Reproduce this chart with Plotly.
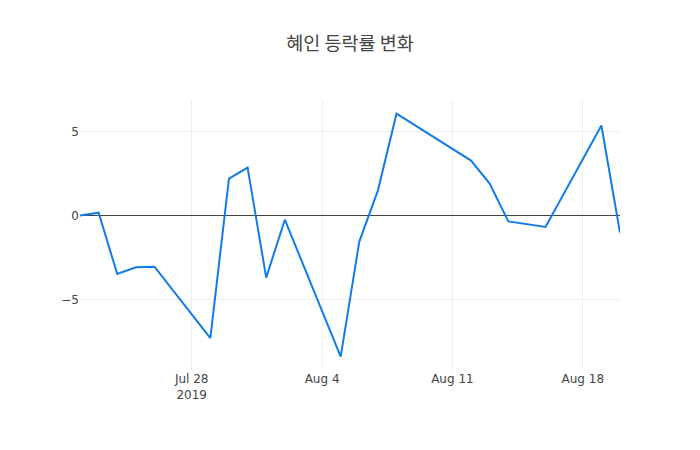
import plotly.graph_objects as go

dates = ["2019-07-22", "2019-07-23", "2019-07-24", "2019-07-25", "2019-07-26",
         "2019-07-29", "2019-07-30", "2019-07-31", "2019-08-01", "2019-08-02",
         "2019-08-05", "2019-08-06", "2019-08-07", "2019-08-08",
         "2019-08-12", "2019-08-13", "2019-08-14", "2019-08-16",
         "2019-08-19", "2019-08-20"]
rates = [0.0, 0.17, -3.48, -3.08, -3.05,
         -7.30, 2.20, 2.85, -3.70, -0.25,
         -8.40, -1.55, 1.50, 6.07,
         3.27, 1.90, -0.35, -0.68,
         5.36, -1.02]

fig = go.Figure(go.Scatter(x=dates, y=rates, mode="lines",
                           line=dict(color="rgb(18,124,230)", width=2)))

fig.update_layout(
    template="none",
    width=700, height=450,
    title=dict(text="혜인 등락률 변화", x=(350 - 8) / 700, xanchor="center", y=0.935,
               font=dict(family="Noto Sans CJK KR, sans-serif", size=18.5, color="#444")),
    font=dict(family="DejaVu Sans, Noto Sans CJK KR, sans-serif", size=12, color="#444"),
    margin=dict(l=72, r=88, t=92, b=88),
    paper_bgcolor="white", plot_bgcolor="white",
    showlegend=False,
)
fig.update_xaxes(range=["2019-07-22", "2019-08-20"], showgrid=True, gridcolor="#eee",
                 zeroline=False, showline=False, ticks="")
fig.update_yaxes(range=[-9.20, 6.88], showgrid=True, gridcolor="#eee",
                 zeroline=True, zerolinecolor="#444", zerolinewidth=1,
                 dtick=5, showline=False, ticks="")

fig.write_html("out.html")
